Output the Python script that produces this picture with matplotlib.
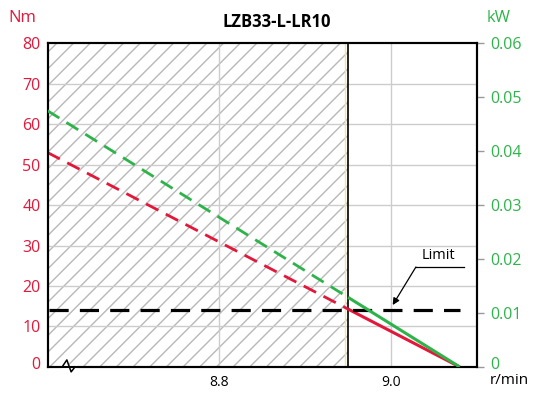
import matplotlib
matplotlib.use("Agg")
import matplotlib.pyplot as plt
from matplotlib.transforms import ScaledTranslation

plt.rcParams['font.family'] = ['Open Sans', 'DejaVu Sans']
plt.rcParams['hatch.color'] = '#b8b8b8'
plt.rcParams['hatch.linewidth'] = 1.0

# 数据
speed = [8.6, 8.95, 9.08]          # r/min
torque = [53.0, 14.3, 0.0]         # Nm
power = [0.0475, 0.0129, 0.0]      # kW
limit_torque = 14.0
limit_speed = 8.95
x_range = [8.6, 9.1]
x_ticks = [8.8, 9.0]
x_tick_labels = ['8.8', '9.0']
nm_ticks = [0, 10, 20, 30, 40, 50, 60, 70, 80]
kw_ticks = [0, 0.01, 0.02, 0.03, 0.04, 0.05, 0.06]
kw_tick_labels = ['0', '0.01', '0.02', '0.03', '0.04', '0.05', '0.06']

RED = '#e3173a'
GREEN = '#2eb34a'


def main():
    fig = plt.figure(figsize=(5.37, 4.01), dpi=100)
    ax = fig.add_axes([0.0885, 0.085, 0.7995, 0.807])
    ax2 = ax.twinx()

    ax.set_xlim(*x_range)
    ax.set_ylim(0, 80)
    ax2.set_ylim(0, 0.06)

    # 禁区（阴影）
    ax.axvspan(x_range[0], limit_speed, facecolor='none', hatch='//',
               edgecolor='#b8b8b8', linewidth=0, zorder=0)

    # 网格
    for y in nm_ticks[1:-1]:
        ax.axhline(y, color='#cccccc', lw=1, zorder=0.5)
    for x in x_ticks:
        ax.axvline(x, color='#cccccc', lw=1, zorder=0.5)

    ax.axvline(limit_speed - 0.004, color='#f2e4a8', lw=1, zorder=1)
    ax.axvline(limit_speed, color='black', lw=1.2, zorder=3)

    # 扭矩曲线（红）
    ax.plot(speed[:2], torque[:2], color=RED, lw=2, ls=(0, (5, 3)), zorder=4)
    ax.plot(speed[1:], torque[1:], color=RED, lw=2.2, zorder=4, solid_capstyle='butt')
    # 功率曲线（绿）
    ax2.plot(speed[:2], power[:2], color=GREEN, lw=2, ls=(0, (5, 3)), zorder=4)
    ax2.plot(speed[1:], power[1:], color=GREEN, lw=2.2, zorder=4, solid_capstyle='butt')

    # 限制线
    ax.plot([x_range[0] + 0.002, speed[-1]], [limit_torque, limit_torque],
            color='black', lw=2.3, ls=(0, (6, 3.5)), zorder=5)

    ax.plot([9.029, 9.085], [24.7, 24.7], color='black', lw=0.9, zorder=5)
    ax.annotate('', xy=(9.002, 15.3), xytext=(9.029, 24.7),
                arrowprops=dict(arrowstyle='-|>', color='black', lw=0.9,
                                mutation_scale=10, shrinkA=0, shrinkB=0), zorder=5)
    ax.text(9.055, 25.6, 'Limit', ha='center', va='bottom', fontsize=10.5)

    # 坐标轴
    ax.set_xticks(x_ticks)
    ax.set_xticklabels(x_tick_labels)
    ax.set_yticks(nm_ticks)
    ax.tick_params(axis='x', length=0, pad=6, labelsize=10)
    ax.tick_params(axis='y', length=0, pad=5, labelsize=11.5, labelcolor=RED)
    ax2.set_yticks(kw_ticks)
    ax2.set_yticklabels(kw_tick_labels)
    ax2.tick_params(axis='y', length=5, width=1, color='#999999', pad=5,
                    labelsize=11.5, labelcolor=GREEN)
    # 底部“0”稍微上移
    up = ScaledTranslation(0, 4 / 100, fig.dpi_scale_trans)
    for lab in (ax.get_yticklabels()[0], ax2.get_yticklabels()[0]):
        lab.set_transform(lab.get_transform() + up)

    for a in (ax, ax2):
        for s in a.spines.values():
            s.set_linewidth(1.5)
            s.set_color('black')

    # 断轴符号
    ax.plot([0.035, 0.063], [0.0, 0.0], transform=ax.transAxes, color='white',
            lw=3, clip_on=False, zorder=6)
    ax.plot([0.034, 0.045, 0.055, 0.064], [0.0, 0.0216, -0.0154, 0.0],
            transform=ax.transAxes, color='black', lw=1.1, clip_on=False, zorder=7)

    fig.text(0.041, 0.955, 'Nm', color=RED, fontsize=12, ha='center', va='center')
    fig.text(0.928, 0.955, 'kW', color=GREEN, fontsize=12, ha='center', va='center')
    fig.text(0.948, 0.052, 'r/min', color='black', fontsize=11, ha='center', va='center')
    fig.text(0.515, 0.945, 'LZB33-L-LR10', fontsize=12, fontweight='bold',
             ha='center', va='center')

    fig.savefig('out.png', dpi=100)


if __name__ == "__main__":
    main()
